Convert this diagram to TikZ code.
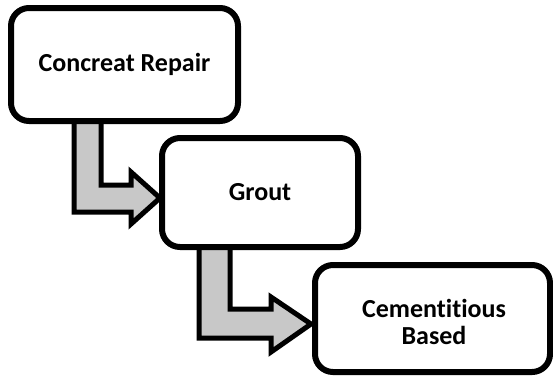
\documentclass[tikz,border=0pt]{standalone}
\usepackage{fontspec}
\setmainfont{Carlito}[Ligatures=NoCommon]
\definecolor{arrowgray}{HTML}{C8C8C8}
\begin{document}
\begin{tikzpicture}[x=1pt,y=-1pt,
  box/.style={draw=black, line width=6pt, rounded corners=18pt, fill=white,
    font=\fontsize{26}{27}\selectfont\bfseries, align=center, inner sep=0pt},
  boxtext/.style={font=\fontsize{26}{27}\selectfont\bfseries, align=center, inner sep=0pt},
  bentarrow/.style={draw=black, line width=5pt, fill=arrowgray, line join=miter}]
\fill[white] (0,0) rectangle (553,376);
\useasboundingbox (0,0) rectangle (553,376);
% arrows first (behind boxes)
\draw[bentarrow] (74,121) -- (74,212) -- (131,212) -- (131,224) -- (160,198) -- (131,172) -- (131,185) -- (101,185) -- (101,121) -- cycle;
\draw[bentarrow] (199,247) -- (199,338) -- (271,338) -- (271,352) -- (311,324) -- (271,297) -- (271,309) -- (230,309) -- (230,247) -- cycle;
% boxes
\node[box, minimum width=227pt, minimum height=113pt] (repair) at (124.5,64.5) {Concreat Repair};
\node[box, minimum width=196pt, minimum height=109pt] (grout) at (260,192.5) {Grout};
\node[box, minimum width=235pt, minimum height=107pt] (cem) at (432.5,318.5) {};
\node[boxtext] (cemtext) at ([xshift=1.5pt,yshift=-3.5pt]cem.center) {Cementitious\\Based};
\end{tikzpicture}
\end{document}
